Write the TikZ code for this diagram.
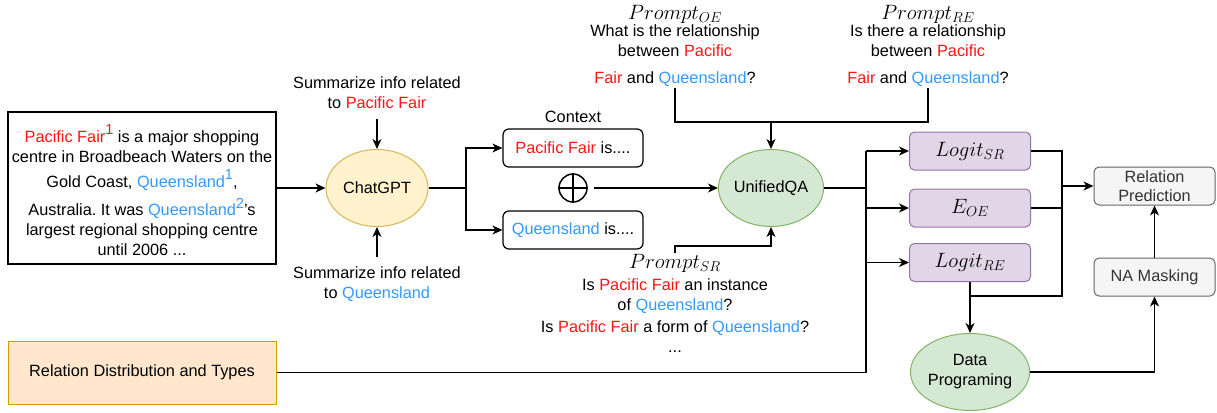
\documentclass[tikz,border=0pt]{standalone}
\usepackage{fontspec}
\setmainfont{Liberation Sans}
\usetikzlibrary{arrows.meta,shapes.geometric,calc}
\frenchspacing
\definecolor{rd}{RGB}{255,20,20}
\definecolor{bl}{RGB}{51,153,255}
\definecolor{chfill}{HTML}{FFF2CC}
\definecolor{chstroke}{HTML}{D6B656}
\definecolor{gnfill}{HTML}{D5E8D4}
\definecolor{gnstroke}{HTML}{82B366}
\definecolor{lgfill}{HTML}{E1D5E7}
\definecolor{lgstroke}{HTML}{9673A6}
\definecolor{gyfill}{HTML}{F5F5F5}
\definecolor{gystroke}{HTML}{666666}
\definecolor{gytext}{HTML}{333333}
\definecolor{orfill}{HTML}{FFE6CC}
\definecolor{orstroke}{HTML}{D79B00}
\newcommand\rtxt[1]{\textcolor{rd}{#1}}
\newcommand\btxt[1]{\textcolor{bl}{#1}}
\newcommand\Supx[1]{\raisebox{0.45em}{\fontsize{14.5}{14.5}\selectfont #1}}
\newcommand\mainfs{\fontsize{16.3}{20}\selectfont}
\newcommand\mathfs{\fontsize{19.5}{20}\selectfont}
\tikzset{
 ln/.style={line width=1.3pt},
 arr/.style={ln,-{Stealth[length=10pt,width=9pt,inset=3pt]}},
 txt/.style={align=center, font=\mainfs, inner sep=1pt},
 ctxbox/.style={draw, rounded corners=6pt, line width=1.2pt, minimum width=140, minimum height=38, font=\mainfs},
 ell/.style={ellipse, line width=1pt, minimum width=102, minimum height=77, inner sep=0pt, font=\mainfs, align=center},
 logit/.style={draw=lgstroke, fill=lgfill, rounded corners=5pt, line width=1pt, minimum width=121, minimum height=38, font=\mathfs},
 graybox/.style={draw=gystroke, fill=gyfill, rounded corners=5pt, line width=1pt, minimum width=121, minimum height=38, text=gytext, font=\fontsize{16.3}{19}\selectfont, align=center},
}
\begin{document}
\begin{tikzpicture}[x=1pt,y=-1pt]
\useasboundingbox (0,0) rectangle (1217,412);
% left source box
\node[draw, line width=1.3pt, minimum width=268, minimum height=152] (src) at (142,188) {};
\node[txt] (srctext) at (142,190.5) {\rtxt{Pacific Fair\Supx{1}} is a major shopping\\ centre in Broadbeach Waters on the\\[5pt] Gold Coast, \btxt{Queensland\Supx{1}},\\[7pt] Australia. It was \btxt{Queensland\Supx{2}}'s\\ largest regional shopping centre\\ until 2006 ...};
\node[draw=orstroke, fill=orfill, line width=1pt, minimum width=268, minimum height=63, font=\mainfs] (rdt) at (142,372.5) {Relation Distribution and Types};
% ChatGPT
\node[ell, draw=chstroke, fill=chfill] (chat) at (377,188) {ChatGPT};
\node[txt] (sumPF) at (377,92.7) {Summarize info related\\ to \rtxt{Pacific Fair}};
\node[txt] (sumQ) at (377,284.2) {Summarize info related\\ to \btxt{Queensland}};
% context
\node[txt] (ctx) at (573,117) {Context};
\node[ctxbox] (c1) at (573,148) {\rtxt{Pacific Fair} is....};
\node[ctxbox] (c2) at (573,230) {\btxt{Queensland} is....};
\node[draw, circle, line width=1.5pt, minimum size=28, inner sep=0pt] (plus) at (573,188) {};
\draw[line width=1.5pt] (plus.north) -- (plus.south) (plus.west) -- (plus.east);
% UnifiedQA
\node[ell, draw=gnstroke, fill=gnfill] (uqa) at (771,188) {UnifiedQA};
% prompts
\node[txt] (poe) at (675,46) {{\mathfs$Prompt_{OE}$}\\[-2.5pt] What is the relationship\\ between \rtxt{Pacific}\\[7pt] \rtxt{Fair} and \btxt{Queensland}?};
\node[txt] (pre) at (928,46) {{\mathfs$Prompt_{RE}$}\\[-2.5pt] Is there a relationship\\ between \rtxt{Pacific}\\[7pt] \rtxt{Fair} and \btxt{Queensland}?};
\node[txt] (psr) at (675,303.6) {{\mathfs$Prompt_{SR}$}\\[2.5pt] Is \rtxt{Pacific Fair} an instance\\ of \btxt{Queensland}?\\[2pt] Is \rtxt{Pacific Fair} a form of \btxt{Queensland}?\\ ...};
% outputs
\node[logit] (lsr) at (970,151) {$Logit_{SR}$};
\node[logit] (eoe) at (970,208) {$E_{OE}$};
\node[logit] (lre) at (970,262.5) {$Logit_{RE}$};
\node[graybox] (rp) at (1154.5,186) {Relation\\Prediction};
\node[graybox] (na) at (1154.5,277) {NA Masking};
\node[ell, draw=gnstroke, fill=gnfill] (dp) at (970,372) {Data\\Programing};
% coordinates
\coordinate (j1) at (466,188);
\coordinate (j2) at (771,122);
\coordinate (j3) at (771,246);
\coordinate (j4) at (866,188);
\coordinate (j5) at (1062,186);
\coordinate (j6) at (1062,296);
% connectors
\draw[arr] (src.east) -- (chat.west);
\draw[arr, shorten <=9pt] (sumPF.south) -- (chat.north);
\draw[arr, shorten <=9pt] (sumQ.north) -- (chat.south);
\draw[arr] (chat.east) -- (j1) |- (c1.west);
\draw[arr] (j1) |- (c2.west);
\draw[arr, shorten <=6pt] (plus.east) -- (uqa.west);
\draw[arr] (poe.south) |- (j2) -- (uqa.north);
\draw[ln] (pre.south) |- (j2);
\draw[arr] (psr.north) |- (j3) -- (uqa.south);
\draw[ln] (uqa.east) -- (j4);
\draw[ln] (rdt.east) -| (lsr.west -| j4);
\draw[arr] (lsr.west -| j4) -- (lsr.west);
\draw[arr] (eoe.west -| j4) -- (eoe.west);
\draw[arr] (lre.west -| j4) -- (lre.west);
\draw[ln] (lsr.east) -| (j6) -- (j6 -| lre.south);
\draw[ln] (eoe.east) -- (eoe.east -| j5);
\draw[arr] (j5) -- (rp.west);
\draw[arr] (lre.south) -- (dp.north);
\draw[arr] (dp.east) -| (na.south);
\draw[arr] (na.north) -- (rp.south);
\end{tikzpicture}
\end{document}
